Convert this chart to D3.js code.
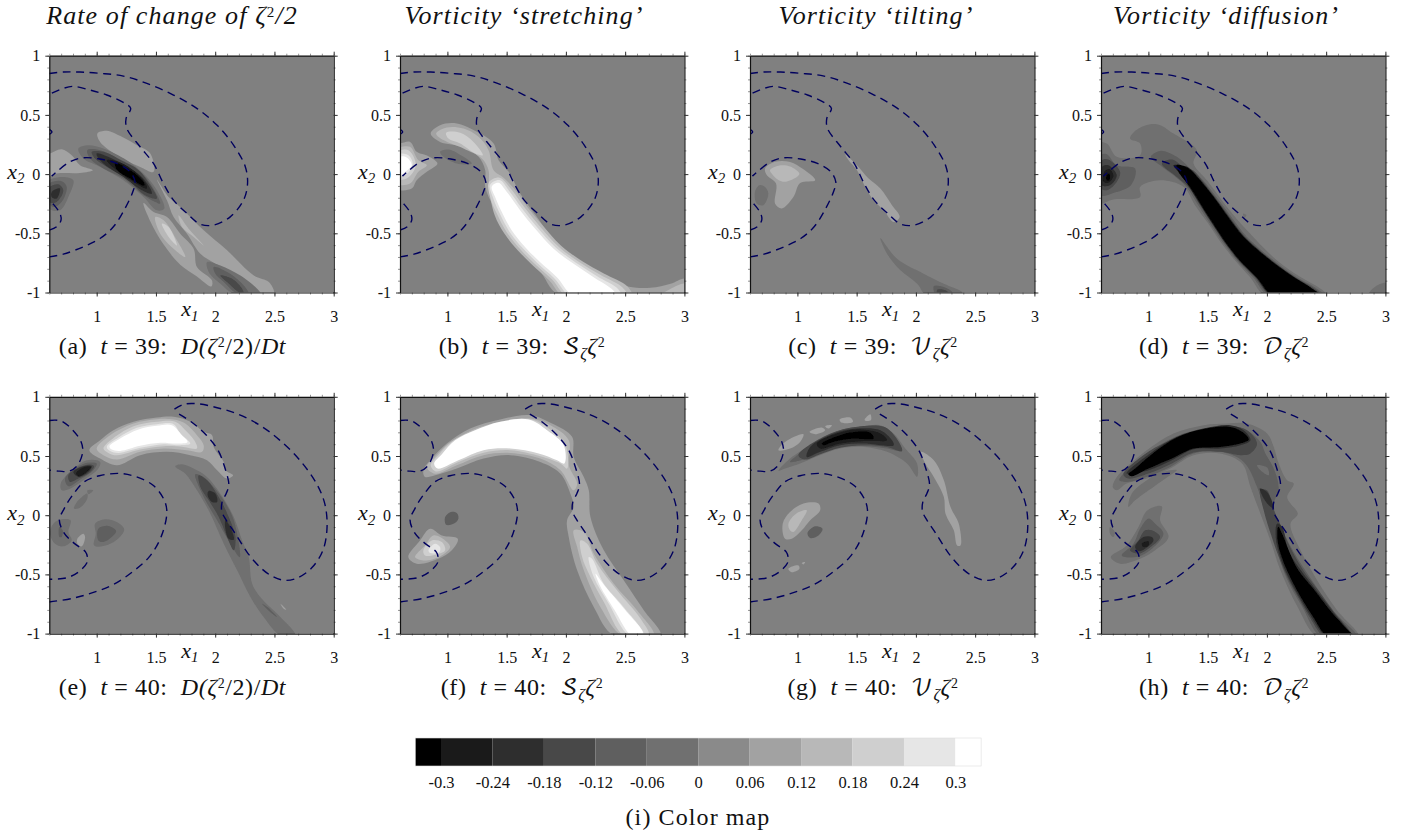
<!DOCTYPE html>
<html>
<head>
<meta charset="utf-8">
<script src="https://cdn.jsdelivr.net/npm/d3@7"></script>
<style>
  body { margin: 0; background: #fff; }
  svg { display: block; }
  text { font-family: "Liberation Serif", serif; fill: #111; }
</style>
</head>
<body>
<div id="chart"></div>
<script>
const width = 1416;
const height = 834;

// values
const xMajor = [1, 1.5, 2, 2.5, 3];
const yMajor = [-1, -0.5, 0, 0.5, 1];
const xMinor = d3.range(6, 31).map(d => d / 10);
const yMinor = d3.range(-10, 11).map(d => d / 10);

const colorTicks = [-0.3, -0.24, -0.18, -0.12, -0.06, 0, 0.06, 0.12, 0.18, 0.24, 0.3];
const colorTickLabels = ["-0.3", "-0.24", "-0.18", "-0.12", "-0.06", "0", "0.06", "0.12", "0.18", "0.24", "0.3"];
const bandGrays = ["#000000", "#1a1a1a", "#2e2e2e", "#484848", "#5f5f5f", "#707070", "#8a8a8a", "#a2a2a2", "#b8b8b8", "#cfcfcf", "#e6e6e6", "#ffffff"];

const headings = [
  [["Rate of change of ζ"], ["2", "sup"], ["/2"]],
  [["Vorticity ‘stretching’"]],
  [["Vorticity ‘tilting’"]],
  [["Vorticity ‘diffusion’"]]
];
const panelLetters = ["a", "b", "c", "d", "e", "f", "g", "h"];
const panelTimes = [39, 39, 39, 39, 40, 40, 40, 40];
const termLetters = ["D", "𝒮", "𝒱", "𝒟"];

// dashed material contours
const contours39 = [
  [[0.6,0.85],[0.718,0.862],[0.859,0.862],[1.028,0.851],[1.225,0.828],[1.423,0.766],[1.648,0.668],[1.845,0.555],[2.014,0.414],[2.155,0.245],[2.254,0.062],[2.273,-0.079],[2.239,-0.22],[2.127,-0.361],[1.986,-0.431],[1.873,-0.423],[1.761,-0.332],[1.648,-0.22],[1.563,-0.079],[1.479,0.09],[1.366,0.231],[1.254,0.386],[1.248,0.47],[1.287,0.555],[1.239,0.597],[1.085,0.668],[0.944,0.71],[0.803,0.741],[0.718,0.724],[0.6,0.673]],
  [[0.6,-0.699],[0.718,-0.676],[0.887,-0.614],[1.028,-0.544],[1.141,-0.445],[1.239,-0.29],[1.31,-0.135],[1.324,-0.065],[1.282,0.02],[1.169,0.09],[1.028,0.127],[0.887,0.138],[0.775,0.104],[0.662,0.02],[0.62,-0.017]],
  [[0.6,-0.473],[0.662,-0.445],[0.699,-0.389],[0.69,-0.332],[0.634,-0.254],[0.6,-0.22]],
  [[0.6,0.377],[0.623,0.355],[0.6,0.335]]
];
const contours40 = [
  [[1.656,0.896],[1.741,0.938],[1.854,0.941],[2.008,0.91],[2.177,0.859],[2.375,0.761],[2.544,0.634],[2.713,0.466],[2.854,0.269],[2.924,0.1],[2.944,-0.097],[2.91,-0.294],[2.811,-0.449],[2.685,-0.533],[2.586,-0.55],[2.487,-0.519],[2.389,-0.449],[2.276,-0.322],[2.177,-0.167],[2.093,-0.041],[2.056,0.03],[2.059,0.114],[2.093,0.184],[2.115,0.255],[2.079,0.409],[2.023,0.55],[1.924,0.677],[1.797,0.789],[1.685,0.859]],
  [[0.6,-0.733],[0.797,-0.702],[0.966,-0.654],[1.135,-0.589],[1.304,-0.477],[1.445,-0.35],[1.544,-0.181],[1.592,0.03],[1.563,0.142],[1.473,0.255],[1.332,0.325],[1.192,0.353],[1.023,0.333],[0.896,0.283],[0.797,0.17],[0.727,0.058],[0.685,-0.041],[0.727,-0.153],[0.811,-0.238],[0.904,-0.308],[0.921,-0.35],[0.915,-0.406],[0.839,-0.485],[0.741,-0.53],[0.6,-0.541]],
  [[0.6,0.8],[0.699,0.797],[0.797,0.719],[0.868,0.62],[0.882,0.536],[0.839,0.423],[0.769,0.372],[0.685,0.372],[0.6,0.381]]
];

// filled contour regions: [level, outline in (x1, x2)], painted in order
const regionsA = [
  [0.09, [[1.006,0.343],[1.085,0.366],[1.212,0.315],[1.339,0.244],[1.452,0.174],[1.48,0.019],[1.367,0.061],[1.17,0.16],[1.029,0.272]]],
  [-0.03, [[0.845,0.216],[0.93,0.244],[1.057,0.216],[1.254,0.117],[1.395,0.005],[1.508,-0.136],[1.57,-0.292],[1.508,-0.306],[1.395,-0.193],[1.226,-0.052],[1.029,0.061],[0.888,0.131]]],
  [-0.09, [[0.921,0.202],[1.029,0.202],[1.198,0.123],[1.339,0.047],[1.452,-0.08],[1.536,-0.249],[1.494,-0.235],[1.395,-0.179],[1.226,-0.038],[1.057,0.047],[0.944,0.131]]],
  [-0.15, [[0.958,0.188],[1.057,0.188],[1.212,0.112],[1.353,0.033],[1.452,-0.094],[1.508,-0.207],[1.409,-0.179],[1.24,-0.024],[1.085,0.061],[0.986,0.131]]],
  [-0.21, [[1.0,0.174],[1.141,0.126],[1.297,0.038],[1.401,-0.046],[1.466,-0.165],[1.381,-0.136],[1.226,-0.024],[1.085,0.067],[1.015,0.131]]],
  [-0.27, [[1.085,0.117],[1.198,0.098],[1.325,0.019],[1.409,-0.074],[1.423,-0.122],[1.311,-0.066],[1.17,0.033]]],
  [-0.33, [[1.156,0.095],[1.297,0.024],[1.395,-0.066],[1.401,-0.097],[1.282,-0.038],[1.17,0.038]]],
  [0.09, [[0.6,0.174],[0.704,0.21],[0.789,0.16],[0.859,0.075],[0.967,0.033],[0.859,0.01],[0.662,0.005],[0.577,-0.024],[0.563,0.174]]],
  [-0.03, [[0.6,-0.052],[0.718,-0.024],[0.803,-0.052],[0.761,-0.193],[0.69,-0.306],[0.6,-0.292],[0.563,-0.165]]],
  [-0.09, [[0.6,-0.08],[0.704,-0.06],[0.747,-0.108],[0.704,-0.235],[0.634,-0.277],[0.577,-0.221]]],
  [-0.15, [[0.6,-0.114],[0.676,-0.086],[0.718,-0.136],[0.662,-0.235],[0.6,-0.235]]],
  [-0.21, [[0.62,-0.151],[0.69,-0.122],[0.662,-0.207],[0.62,-0.193]]],
  [0.09, [[1.395,-0.244],[1.48,-0.32],[1.593,-0.362],[1.705,-0.503],[1.818,-0.63],[1.846,-0.785],[1.973,-0.898],[1.967,-0.949],[1.846,-0.864],[1.705,-0.765],[1.565,-0.595],[1.452,-0.398]]],
  [0.15, [[1.494,-0.362],[1.565,-0.39],[1.677,-0.559],[1.747,-0.7],[1.649,-0.63],[1.536,-0.503]]],
  [0.21, [[1.55,-0.418],[1.607,-0.447],[1.677,-0.602],[1.607,-0.531]]],
  [0.09, [[1.508,-0.046],[1.607,-0.193],[1.72,-0.292],[1.903,-0.475],[2.1,-0.644],[2.326,-0.856],[2.453,-0.912],[2.495,-1.01],[2.326,-1.01],[2.157,-0.87],[2.0,-0.757],[1.875,-0.672],[1.762,-0.503],[1.649,-0.362],[1.593,-0.221]]],
  [0.15, [[1.691,-0.348],[1.776,-0.461],[1.903,-0.602],[1.818,-0.531],[1.72,-0.447]]],
  [-0.03, [[1.931,-0.743],[2.044,-0.771],[2.213,-0.856],[2.354,-0.968],[2.382,-1.01],[2.157,-1.01],[2.044,-0.926],[1.946,-0.828]]],
  [-0.09, [[1.987,-0.785],[2.1,-0.827],[2.213,-0.912],[2.283,-1.01],[2.185,-1.01],[2.072,-0.912],[2.0,-0.84]]],
  [-0.15, [[2.044,-0.856],[2.143,-0.884],[2.227,-0.968],[2.241,-1.01],[2.199,-0.997],[2.1,-0.912]]]
];

const regionsB = [
  [0.09, [[0.859,0.343],[0.938,0.413],[1.079,0.428],[1.249,0.357],[1.39,0.258],[1.432,0.117],[1.517,0.019],[1.615,-0.165],[1.756,-0.362],[1.925,-0.588],[2.179,-0.785],[2.489,-0.94],[2.715,-0.96],[2.884,-0.926],[3.01,-0.884],[3.04,-1.03],[1.954,-1.03],[1.775,-0.813],[1.531,-0.559],[1.39,-0.277],[1.319,-0.108],[1.319,0.033],[1.263,0.146],[1.136,0.23],[0.938,0.272]]],
  [0.15, [[0.905,0.343],[0.995,0.394],[1.136,0.385],[1.263,0.315],[1.347,0.202],[1.39,0.033],[1.474,-0.03],[1.56,-0.12],[1.673,-0.275],[1.8,-0.43],[1.955,-0.6],[2.122,-0.726],[2.32,-0.84],[2.52,-0.95],[2.56,-1.04],[1.99,-1.04],[1.862,-0.9],[1.721,-0.772],[1.595,-0.645],[1.482,-0.504],[1.4,-0.349],[1.35,-0.108],[1.347,0.033],[1.291,0.131],[1.136,0.216],[0.967,0.287]]],
  [0.21, [[0.989,0.349],[1.108,0.349],[1.22,0.272],[1.299,0.16],[1.235,0.174],[1.108,0.258],[1.009,0.3]]],
  [0.21, [[1.35,-0.07],[1.44,-0.03],[1.54,-0.13],[1.653,-0.285],[1.779,-0.44],[1.934,-0.609],[2.102,-0.736],[2.29,-0.85],[2.48,-0.96],[2.52,-1.04],[2.02,-1.04],[1.882,-0.889],[1.741,-0.762],[1.615,-0.635],[1.502,-0.494],[1.42,-0.339],[1.365,-0.21]]],
  [0.27, [[1.36,-0.09],[1.44,-0.05],[1.52,-0.14],[1.633,-0.295],[1.759,-0.45],[1.914,-0.619],[2.082,-0.746],[2.26,-0.86],[2.44,-0.97],[2.47,-1.04],[2.05,-1.04],[1.902,-0.879],[1.761,-0.752],[1.635,-0.625],[1.522,-0.484],[1.44,-0.329],[1.385,-0.2]]],
  [0.33, [[1.374,-0.107],[1.43,-0.074],[1.5,-0.15],[1.613,-0.305],[1.739,-0.46],[1.894,-0.629],[2.062,-0.756],[2.231,-0.869],[2.399,-0.982],[2.427,-1.038],[2.076,-1.038],[1.922,-0.869],[1.781,-0.742],[1.655,-0.615],[1.542,-0.474],[1.458,-0.319],[1.402,-0.192]]],
  [0.15, [[2.884,-0.968],[3.01,-0.926],[3.04,-1.03],[2.8,-1.03]]],
  [-0.03, [[0.938,0.189],[1.009,0.208],[1.136,0.146],[1.206,0.09],[1.079,0.09],[0.967,0.146]]],
  [0.09, [[0.6,0.258],[0.685,0.272],[0.741,0.188],[0.84,0.151],[0.916,0.089],[0.826,0.019],[0.741,-0.052],[0.699,-0.122],[0.572,-0.122],[0.558,0.258]]],
  [0.15, [[0.6,0.23],[0.685,0.23],[0.755,0.117],[0.826,0.075],[0.755,0.019],[0.685,-0.08],[0.572,-0.08],[0.566,0.23]]],
  [0.21, [[0.6,0.202],[0.671,0.202],[0.727,0.117],[0.727,0.047],[0.656,-0.038],[0.572,-0.038],[0.572,0.202]]],
  [0.27, [[0.6,0.174],[0.671,0.16],[0.707,0.089],[0.656,-0.001],[0.572,-0.01],[0.572,0.174]]],
  [0.33, [[0.6,0.146],[0.656,0.14],[0.699,0.075],[0.642,0.019],[0.6,-0.01],[0.566,0.06]]]
];

const regionsC = [
  [0.09, [[0.727,0.047],[0.811,0.104],[0.938,0.103],[1.051,0.04],[1.15,-0.052],[1.023,-0.075],[0.966,-0.193],[0.868,-0.29],[0.812,-0.25],[0.82,-0.08],[0.741,-0.007]]],
  [0.15, [[0.769,0.033],[0.84,0.07],[0.938,0.064],[1.017,0.0],[0.904,-0.064],[0.84,-0.05],[0.783,0.005]]],
  [-0.03, [[0.679,-0.094],[0.727,-0.108],[0.755,-0.165],[0.713,-0.263],[0.656,-0.249],[0.642,-0.15]]],
  [0.09, [[1.404,0.165],[1.503,0.075],[1.601,-0.038],[1.7,-0.122],[1.798,-0.263],[1.863,-0.362],[1.812,-0.404],[1.728,-0.305],[1.643,-0.221],[1.573,-0.108],[1.503,0.033],[1.432,0.117]]],
  [-0.03, [[1.7,-0.54],[1.841,-0.715],[2.066,-0.841],[2.236,-0.926],[2.391,-0.997],[2.405,-1.03],[2.095,-1.03],[2.01,-0.926],[1.869,-0.813],[1.756,-0.672]]],
  [-0.09, [[2.151,-0.946],[2.236,-0.954],[2.306,-1.0],[2.207,-1.03],[2.17,-1.03]]],
  [-0.15, [[2.179,-0.977],[2.25,-0.982],[2.292,-1.03],[2.19,-1.03]]]
];

const regionsD = [
  [-0.03, [[0.845,0.3],[0.916,0.385],[1.071,0.422],[1.212,0.343],[1.409,0.202],[1.381,0.089],[1.494,-0.052],[1.663,-0.277],[1.832,-0.475],[2.086,-0.729],[2.284,-0.87],[2.453,-0.968],[2.53,-1.04],[2.0,-1.04],[1.857,-0.869],[1.73,-0.728],[1.618,-0.587],[1.505,-0.418],[1.393,-0.263],[1.295,-0.107],[1.099,-0.052],[0.93,-0.108],[0.93,-0.193],[0.704,-0.215],[0.563,-0.249],[0.563,0.258],[0.648,0.258],[0.733,0.146],[0.93,0.16],[0.93,0.258]]],
  [-0.03, [[2.876,-0.984],[2.96,-0.926],[3.04,-0.92],[3.04,-1.03],[2.86,-1.03]]],
  [-0.03, [[1.799,-0.334],[1.827,-0.348],[1.81,-0.368]]],
  [-0.09, [[1.02,0.146],[1.099,0.196],[1.24,0.146],[1.339,0.061],[1.46,-0.05],[1.573,-0.192],[1.69,-0.347],[1.83,-0.53],[1.97,-0.657],[2.11,-0.77],[2.25,-0.869],[2.41,-0.96],[2.5,-1.04],[2.03,-1.04],[1.88,-0.869],[1.745,-0.728],[1.635,-0.587],[1.52,-0.418],[1.42,-0.263],[1.32,-0.107],[1.212,-0.01],[1.099,0.075]]],
  [-0.15, [[1.113,0.089],[1.198,0.123],[1.297,0.061],[1.38,0.03],[1.45,-0.05],[1.56,-0.192],[1.675,-0.347],[1.815,-0.53],[1.955,-0.657],[2.095,-0.77],[2.235,-0.869],[2.39,-0.96],[2.48,-1.04],[2.05,-1.04],[1.895,-0.869],[1.757,-0.728],[1.647,-0.587],[1.535,-0.418],[1.435,-0.263],[1.335,-0.107],[1.24,-0.024]]],
  [-0.27, [[1.212,0.075],[1.297,0.07],[1.345,0.05],[1.44,-0.05],[1.553,-0.192],[1.667,-0.347],[1.807,-0.53],[1.948,-0.657],[2.089,-0.77],[2.229,-0.869],[2.37,-0.96],[2.47,-1.04],[2.06,-1.04],[1.905,-0.869],[1.765,-0.728],[1.653,-0.587],[1.54,-0.418],[1.442,-0.263],[1.343,-0.107],[1.27,0.0]]],
  [-0.33, [[1.239,0.076],[1.337,0.048],[1.435,-0.051],[1.548,-0.192],[1.66,-0.347],[1.8,-0.53],[1.941,-0.657],[2.082,-0.77],[2.222,-0.869],[2.363,-0.953],[2.461,-1.038],[2.067,-1.038],[1.913,-0.869],[1.772,-0.728],[1.66,-0.587],[1.548,-0.418],[1.449,-0.263],[1.351,-0.107],[1.253,0.02]]],
  [-0.09, [[0.6,0.16],[0.648,0.168],[0.733,0.075],[0.888,0.047],[0.853,-0.094],[0.704,-0.159],[0.6,-0.179],[0.56,0.0]]],
  [-0.15, [[0.606,0.117],[0.662,0.123],[0.761,0.019],[0.733,-0.066],[0.648,-0.136],[0.6,-0.122],[0.563,0.005]]],
  [-0.21, [[0.614,0.067],[0.662,0.075],[0.733,-0.01],[0.676,-0.094],[0.606,-0.094],[0.577,-0.01]]],
  [-0.27, [[0.634,0.028],[0.676,0.039],[0.704,-0.018],[0.662,-0.072],[0.62,-0.063]]],
  [-0.33, [[0.648,-0.01],[0.67,0.005],[0.67,-0.052],[0.648,-0.052]]]
];

const regionsE = [
  [0.09, [[0.938,0.549],[1.029,0.633],[1.141,0.718],[1.311,0.789],[1.508,0.825],[1.649,0.831],[1.79,0.789],[1.903,0.704],[1.973,0.676],[1.987,0.577],[2.072,0.45],[2.086,0.38],[2.151,0.337],[2.1,0.309],[2.016,0.38],[1.931,0.464],[1.79,0.507],[1.593,0.535],[1.367,0.507],[1.17,0.422],[1.029,0.478]]],
  [0.15, [[1.0,0.563],[1.113,0.676],[1.311,0.775],[1.508,0.811],[1.649,0.808],[1.748,0.775],[1.846,0.676],[1.903,0.591],[1.889,0.535],[1.762,0.549],[1.565,0.563],[1.367,0.535],[1.17,0.47],[1.057,0.507]]],
  [0.21, [[1.057,0.563],[1.155,0.662],[1.311,0.752],[1.508,0.789],[1.663,0.789],[1.748,0.718],[1.832,0.619],[1.846,0.563],[1.733,0.577],[1.565,0.583],[1.367,0.554],[1.17,0.506],[1.099,0.526]]],
  [0.27, [[1.085,0.577],[1.184,0.656],[1.339,0.738],[1.508,0.769],[1.649,0.769],[1.705,0.69],[1.79,0.605],[1.705,0.591],[1.565,0.6],[1.367,0.569],[1.184,0.526],[1.113,0.543]]],
  [0.33, [[1.108,0.583],[1.198,0.648],[1.353,0.724],[1.508,0.755],[1.635,0.76],[1.719,0.676],[1.767,0.619],[1.677,0.605],[1.536,0.611],[1.367,0.586],[1.198,0.543],[1.127,0.554]]],
  [-0.03, [[0.696,0.267],[0.775,0.366],[0.916,0.464],[1.029,0.45],[1.014,0.394],[0.888,0.295],[0.775,0.224],[0.704,0.21]]],
  [-0.09, [[0.733,0.309],[0.817,0.394],[0.921,0.442],[1.0,0.436],[0.972,0.38],[0.874,0.309],[0.761,0.244]]],
  [-0.15, [[0.761,0.337],[0.845,0.402],[0.944,0.428],[0.978,0.414],[0.93,0.352],[0.845,0.309],[0.775,0.281]]],
  [-0.21, [[0.803,0.366],[0.888,0.414],[0.958,0.414],[0.93,0.366],[0.845,0.323]]],
  [-0.27, [[0.825,0.352],[0.888,0.403],[0.95,0.408],[0.916,0.366],[0.854,0.329]]],
  [-0.03, [[0.874,0.154],[0.921,0.182],[0.921,0.14],[0.888,0.089],[0.845,0.056],[0.808,0.056],[0.831,0.11]]],
  [-0.03, [[0.921,0.21],[0.972,0.21],[0.93,0.177]]],
  [-0.03, [[0.634,-0.072],[0.704,-0.035],[0.78,-0.043],[0.761,-0.142],[0.789,-0.213],[0.718,-0.263],[0.648,-0.241],[0.606,-0.156]]],
  [-0.09, [[0.685,-0.1],[0.713,-0.128],[0.704,-0.184],[0.685,-0.184]]],
  [0.09, [[0.837,-0.199],[0.888,-0.156],[0.902,-0.184],[0.874,-0.263],[0.837,-0.241]]],
  [-0.03, [[0.986,-0.072],[1.07,-0.035],[1.17,-0.058],[1.232,-0.12],[1.17,-0.207],[1.057,-0.261],[0.978,-0.255],[0.992,-0.156]]],
  [-0.09, [[1.014,-0.114],[1.099,-0.091],[1.164,-0.134],[1.127,-0.185],[1.057,-0.227],[1.014,-0.213]]],
  [-0.03, [[1.663,0.413],[1.72,0.43],[1.818,0.394],[1.931,0.323],[2.044,0.182],[2.157,-0.015],[2.227,-0.213],[2.283,-0.354],[2.312,-0.579],[2.382,-0.692],[2.523,-0.833],[2.678,-1.016],[2.551,-1.016],[2.41,-0.861],[2.298,-0.692],[2.185,-0.466],[2.072,-0.241],[1.959,0.013],[1.846,0.21],[1.748,0.351]]],
  [-0.09, [[1.832,0.346],[1.903,0.323],[1.987,0.239],[2.072,0.126],[2.157,-0.043],[2.207,-0.354],[2.128,-0.241],[2.016,-0.043],[1.903,0.154]]],
  [-0.15, [[1.861,0.337],[1.931,0.295],[2.03,0.154],[2.114,-0.015],[2.171,-0.184],[2.157,-0.297],[2.1,-0.184],[2.03,-0.015],[1.945,0.126],[1.875,0.239]]],
  [-0.21, [[1.945,0.205],[2.002,0.182],[2.016,0.112],[1.973,0.112],[1.936,0.168]]],
  [-0.21, [[2.086,-0.043],[2.128,-0.1],[2.157,-0.207],[2.114,-0.199],[2.086,-0.114]]],
  [-0.09, [[2.396,-0.748],[2.441,-0.776],[2.523,-0.861],[2.481,-0.833]]],
  [0.09, [[2.551,-0.748],[2.601,-0.799],[2.578,-0.79]]]
];

const regionsF = [
  [0.09, [[0.797,0.38],[0.868,0.478],[0.995,0.605],[1.192,0.732],[1.446,0.808],[1.7,0.845],[1.883,0.774],[2.052,0.662],[2.066,0.492],[2.151,0.323],[2.193,0.21],[2.207,-0.015],[2.32,-0.297],[2.489,-0.551],[2.659,-0.805],[2.8,-1.016],[2.405,-1.016],[2.236,-0.777],[2.095,-0.466],[2.024,-0.184],[2.01,-0.043],[2.066,0.069],[2.038,0.182],[1.954,0.351],[1.784,0.45],[1.531,0.507],[1.305,0.478],[1.079,0.394],[0.896,0.337],[0.811,0.323]]],
  [0.15, [[0.826,0.408],[0.896,0.492],[1.009,0.605],[1.206,0.718],[1.446,0.789],[1.7,0.817],[1.869,0.76],[2.024,0.633],[2.024,0.422],[2.095,0.267],[2.066,0.21],[1.954,0.38],[1.784,0.478],[1.531,0.526],[1.305,0.507],[1.079,0.422],[0.896,0.351]]],
  [0.21, [[0.859,0.422],[0.924,0.507],[1.037,0.62],[1.22,0.713],[1.446,0.78],[1.7,0.808],[1.855,0.732],[1.996,0.591],[2.01,0.394],[1.954,0.436],[1.784,0.498],[1.531,0.549],[1.305,0.527],[1.079,0.443],[0.905,0.369]]],
  [0.33, [[0.888,0.436],[0.953,0.515],[1.065,0.633],[1.234,0.718],[1.446,0.789],[1.686,0.808],[1.841,0.718],[1.982,0.591],[1.987,0.436],[1.925,0.464],[1.77,0.521],[1.531,0.563],[1.305,0.549],[1.093,0.464],[0.916,0.394]]],
  [0.15, [[2.066,-0.128],[2.151,-0.142],[2.236,-0.325],[2.405,-0.579],[2.602,-0.805],[2.743,-1.016],[2.475,-1.016],[2.292,-0.777],[2.151,-0.466],[2.095,-0.269]]],
  [0.21, [[2.123,-0.213],[2.179,-0.241],[2.264,-0.41],[2.433,-0.636],[2.63,-0.875],[2.7,-1.016],[2.489,-1.016],[2.32,-0.734],[2.207,-0.523],[2.137,-0.354]]],
  [0.27, [[2.193,-0.354],[2.221,-0.368],[2.32,-0.579],[2.489,-0.777],[2.659,-1.016],[2.532,-1.016],[2.362,-0.748],[2.235,-0.523]]],
  [0.33, [[2.25,-0.495],[2.33,-0.6],[2.5,-0.8],[2.65,-1.0],[2.56,-1.02],[2.41,-0.8],[2.29,-0.6]]],
  [0.09, [[0.67,-0.354],[0.769,-0.213],[0.854,-0.114],[0.953,-0.171],[1.088,-0.199],[1.037,-0.297],[0.924,-0.368],[0.741,-0.41]]],
  [0.15, [[0.727,-0.354],[0.811,-0.255],[0.882,-0.171],[0.981,-0.213],[1.023,-0.269],[0.938,-0.348],[0.797,-0.382]]],
  [0.21, [[0.797,-0.297],[0.868,-0.213],[0.953,-0.227],[0.981,-0.297],[0.91,-0.331],[0.811,-0.34]]],
  [0.27, [[0.84,-0.297],[0.896,-0.241],[0.938,-0.269],[0.933,-0.311],[0.854,-0.32]]],
  [-0.09, [[0.981,-0.015],[1.029,0.027],[1.079,0.019],[1.093,-0.029],[1.051,-0.072],[0.989,-0.08]]]
];

const regionsG = [
  [-0.03, [[0.84,0.374],[0.938,0.478],[1.136,0.605],[1.333,0.704],[1.531,0.746],[1.7,0.76],[1.813,0.69],[1.911,0.563],[2.01,0.436],[2.01,0.323],[1.925,0.436],[1.756,0.535],[1.559,0.577],[1.361,0.563],[1.192,0.506],[1.023,0.436],[0.896,0.394]]],
  [-0.09, [[0.938,0.45],[1.009,0.515],[1.164,0.62],[1.361,0.718],[1.531,0.746],[1.728,0.746],[1.827,0.648],[1.883,0.543],[1.756,0.563],[1.559,0.585],[1.361,0.575],[1.192,0.52],[1.023,0.462]]],
  [-0.15, [[1.009,0.507],[1.22,0.662],[1.446,0.738],[1.728,0.746],[1.827,0.662],[1.883,0.543],[1.756,0.577],[1.559,0.591],[1.361,0.569],[1.192,0.515],[1.065,0.47]]],
  [-0.21, [[1.108,0.577],[1.305,0.69],[1.502,0.732],[1.7,0.718],[1.798,0.633],[1.812,0.591],[1.559,0.605],[1.361,0.591],[1.192,0.535],[1.079,0.492]]],
  [-0.27, [[1.164,0.605],[1.333,0.69],[1.502,0.724],[1.7,0.69],[1.756,0.633],[1.587,0.628],[1.361,0.605],[1.192,0.563]]],
  [-0.33, [[1.206,0.605],[1.361,0.676],[1.502,0.704],[1.615,0.696],[1.643,0.648],[1.474,0.648],[1.305,0.62],[1.22,0.591]]],
  [0.09, [[0.84,0.549],[0.896,0.619],[1.051,0.684],[1.023,0.619],[0.938,0.563]]],
  [0.09, [[1.102,0.704],[1.206,0.741],[1.234,0.718],[1.15,0.684]]],
  [0.09, [[1.234,0.752],[1.291,0.76],[1.263,0.732]]],
  [0.09, [[1.356,0.808],[1.446,0.825],[1.469,0.789],[1.375,0.78]]],
  [0.09, [[1.567,0.808],[1.615,0.853],[1.621,0.803],[1.573,0.797]]],
  [0.09, [[2.044,0.535],[2.151,0.464],[2.236,0.295],[2.292,0.069],[2.362,-0.072],[2.376,-0.255],[2.348,-0.255],[2.32,-0.128],[2.25,0.013],[2.236,0.154],[2.151,0.323],[2.08,0.436]]],
  [0.09, [[0.876,-0.072],[0.938,0.027],[1.051,0.098],[1.178,0.098],[1.192,0.041],[1.108,-0.043],[1.037,-0.128],[0.953,-0.199],[0.896,-0.199]]],
  [0.15, [[0.924,-0.072],[0.989,0.013],[1.079,0.041],[1.037,-0.043],[0.966,-0.142],[0.938,-0.128]]],
  [-0.09, [[1.085,-0.151],[1.15,-0.094],[1.212,-0.114],[1.178,-0.171],[1.108,-0.193]]],
  [0.09, [[0.924,-0.452],[1.009,-0.424],[1.017,-0.452],[0.953,-0.481]]],
  [0.09, [[1.037,-0.404],[1.065,-0.396],[1.051,-0.416]]]
];

const regionsH = [
  [-0.03, [[0.699,0.239],[0.733,0.323],[0.817,0.408],[0.986,0.549],[1.212,0.69],[1.466,0.76],[1.663,0.774],[1.832,0.774],[2.002,0.69],[2.058,0.577],[2.1,0.436],[2.171,0.295],[2.227,0.267],[2.171,0.154],[2.199,0.098],[2.261,0.013],[2.199,-0.072],[2.284,-0.297],[2.425,-0.551],[2.594,-0.805],[2.777,-1.03],[2.43,-1.03],[2.26,-0.777],[2.114,-0.466],[2.03,-0.213],[1.945,0.013],[1.861,0.239],[1.79,0.436],[1.607,0.521],[1.381,0.507],[1.184,0.394],[0.986,0.309],[0.817,0.267],[0.733,0.21]]],
  [-0.03, [[0.831,0.07],[0.859,0.182],[0.986,0.295],[1.127,0.366],[1.24,0.38],[1.184,0.338],[1.043,0.239],[0.888,0.126]]],
  [-0.09, [[0.755,0.295],[0.803,0.366],[0.986,0.521],[1.226,0.662],[1.466,0.732],[1.677,0.752],[1.804,0.732],[1.945,0.619],[1.987,0.521],[2.058,0.394],[2.1,0.225],[2.058,0.084],[2.114,-0.086],[2.227,-0.311],[2.39,-0.564],[2.57,-0.818],[2.76,-1.03],[2.46,-1.03],[2.3,-0.777],[2.16,-0.52],[2.07,-0.25],[1.987,0.013],[1.917,0.239],[1.804,0.45],[1.607,0.535],[1.381,0.521],[1.184,0.408],[0.986,0.323],[0.817,0.281]]],
  [-0.03, [[1.917,0.422],[2.002,0.402],[2.016,0.338],[1.945,0.38]]],
  [-0.15, [[0.789,0.344],[1.0,0.535],[1.226,0.648],[1.466,0.718],[1.691,0.752],[1.832,0.718],[1.917,0.605],[1.861,0.521],[1.776,0.507],[1.607,0.535],[1.381,0.53],[1.198,0.437],[1.0,0.352],[0.831,0.31]]],
  [-0.21, [[0.817,0.352],[1.014,0.521],[1.24,0.662],[1.466,0.732],[1.691,0.76],[1.804,0.718],[1.861,0.633],[1.776,0.591],[1.607,0.563],[1.381,0.558],[1.198,0.465],[1.0,0.38]]],
  [-0.33, [[0.831,0.346],[0.888,0.394],[1.029,0.515],[1.24,0.656],[1.466,0.727],[1.677,0.746],[1.79,0.704],[1.847,0.639],[1.776,0.605],[1.607,0.577],[1.381,0.563],[1.198,0.479],[1.0,0.394],[0.859,0.329]]],
  [-0.15, [[1.945,0.21],[2.0,0.21],[2.058,0.042],[2.11,-0.07],[2.2,-0.28],[2.31,-0.47],[2.43,-0.63],[2.56,-0.81],[2.72,-1.03],[2.49,-1.03],[2.36,-0.859],[2.27,-0.704],[2.17,-0.52],[2.1,-0.351],[2.04,-0.18],[1.973,0.042]]],
  [-0.21, [[1.94,0.225],[2.002,0.196],[2.058,0.056],[2.002,0.098]]],
  [-0.21, [[2.086,-0.072],[2.13,-0.1],[2.18,-0.3],[2.29,-0.47],[2.41,-0.625],[2.55,-0.806],[2.71,-1.03],[2.51,-1.03],[2.375,-0.859],[2.28,-0.704],[2.18,-0.52],[2.11,-0.351],[2.075,-0.19]]],
  [-0.33, [[2.096,-0.097],[2.133,-0.168],[2.195,-0.323],[2.265,-0.464],[2.391,-0.619],[2.532,-0.802],[2.686,-0.972],[2.742,-1.028],[2.518,-1.028],[2.391,-0.859],[2.293,-0.704],[2.195,-0.52],[2.124,-0.351],[2.088,-0.196]]],
  [-0.03, [[0.682,-0.354],[0.817,-0.255],[0.916,-0.1],[0.992,0.041],[1.113,0.075],[1.099,-0.043],[1.17,-0.185],[1.057,-0.297],[0.93,-0.368],[0.761,-0.41]]],
  [-0.09, [[0.775,-0.34],[0.874,-0.241],[0.93,-0.114],[1.0,-0.029],[1.057,-0.072],[1.127,-0.156],[1.014,-0.297],[0.902,-0.354]]],
  [-0.15, [[0.845,-0.297],[0.916,-0.213],[0.972,-0.128],[1.029,-0.128],[1.099,-0.185],[1.0,-0.283],[0.916,-0.325]]],
  [-0.21, [[0.888,-0.269],[0.958,-0.185],[1.029,-0.185],[1.043,-0.213],[0.972,-0.283],[0.916,-0.303]]],
  [-0.27, [[0.944,-0.241],[1.0,-0.221],[1.0,-0.255],[0.958,-0.269]]],
  [-0.03, [[0.676,-0.1],[0.718,-0.142],[0.704,-0.184],[0.676,-0.156]]]
];

const regionSets = [regionsA, regionsB, regionsC, regionsD, regionsE, regionsF, regionsG, regionsH];

const svg = d3.select("#chart")
  .append("svg")
  .attr("width", width)
  .attr("height", height);

const plotW = 284.4;
const plotH = 236.8;
const colX = [49.3, 400, 750, 1101];
const rowY = [55.7, 396.8];
const headingX = [172, 524, 876, 1226];
const captionX = [172.5, 522, 873, 1224];

const x = d3.scaleLinear().domain([0.6, 3]).range([0, plotW]);
const y = d3.scaleLinear().domain([-1, 1]).range([plotH, 0]);

const color = d3.scaleThreshold()
  .domain(colorTicks)
  .range(bandGrays);

const area = d3.line()
  .x(d => x(d[0]))
  .y(d => y(d[1]))
  .curve(d3.curveCatmullRomClosed.alpha(0.5));

const contourLine = d3.line()
  .x(d => x(d[0]))
  .y(d => y(d[1]))
  .curve(d3.curveCatmullRom.alpha(0.5));

const defs = svg.append("defs");
defs.append("clipPath").attr("id", "plot-clip")
  .append("rect").attr("width", plotW).attr("height", plotH);
defs.append("filter").attr("id", "soft")
  .append("feGaussianBlur").attr("stdDeviation", 0.45);

// writes [string, kind] runs into a text element
function richText(sel, runs, size) {
  let shift = 0;
  runs.forEach(([str, kind]) => {
    const t = sel.append("tspan").text(str);
    let target = 0;
    if (kind === "sup") { target = -size * 0.28; t.attr("font-size", size * 0.58).attr("font-style", "normal"); }
    if (kind === "sub") { target = size * 0.2; t.attr("font-size", size * 0.68).attr("font-style", "italic"); }
    if (kind === "it") t.attr("font-style", "italic");
    if (kind === "rm") t.attr("font-style", "normal");
    if (kind === "script") t.attr("font-family", "'DejaVu Math TeX Gyre', 'Liberation Serif', serif").attr("font-size", size * 0.95).attr("font-style", "normal");
    if (target !== shift) { t.attr("dy", target - shift); shift = target; }
  });
}

regionSets.forEach((regions, i) => {
  const col = i % 4;
  const row = Math.floor(i / 4);
  const g = svg.append("g")
    .attr("transform", `translate(${colX[col]},${rowY[row]})`);

  const clip = g.append("g").attr("clip-path", "url(#plot-clip)");
  clip.append("rect")
    .attr("width", plotW)
    .attr("height", plotH)
    .attr("fill", "#808080");

  clip.append("g")
    .attr("filter", "url(#soft)")
    .selectAll("path")
    .data(regions)
    .enter().append("path")
    .attr("d", d => area(d[1]))
    .attr("fill", d => color(d[0]));

  clip.append("g")
    .selectAll("path")
    .data(row === 0 ? contours39 : contours40)
    .enter().append("path")
    .attr("d", contourLine)
    .attr("fill", "none")
    .attr("stroke", "#00005e")
    .attr("stroke-width", 1.4)
    .attr("stroke-dasharray", "8 5.5");

  // minor ticks on all four sides
  const minorAxes = [
    [d3.axisBottom(x).tickValues(xMinor), `translate(0,${plotH})`],
    [d3.axisTop(x).tickValues(xMinor), "translate(0,0)"],
    [d3.axisLeft(y).tickValues(yMinor), "translate(0,0)"],
    [d3.axisRight(y).tickValues(yMinor), `translate(${plotW},0)`]
  ];
  minorAxes.forEach(([axis, tr]) => {
    g.append("g")
      .attr("transform", tr)
      .call(axis.tickSize(2).tickFormat(""))
      .call(a => a.select(".domain").remove())
      .selectAll("line").attr("stroke", "#777").attr("stroke-width", 0.8);
  });

  const axisStyle = a => {
    a.select(".domain").attr("stroke", "#111").attr("stroke-width", 1.2);
    a.selectAll("line").attr("stroke", "#333");
    a.selectAll("text")
      .attr("font-family", "'Liberation Serif', serif")
      .attr("font-size", 16)
      .attr("fill", "#111");
  };

  g.append("g")
    .attr("transform", `translate(0,${plotH})`)
    .call(d3.axisBottom(x).tickValues(xMajor).tickSize(4).tickSizeOuter(0).tickPadding(14).tickFormat(d => d))
    .call(axisStyle);
  g.append("g")
    .call(d3.axisTop(x).tickValues(xMajor).tickSize(4).tickSizeOuter(0).tickFormat(""))
    .call(axisStyle);
  g.append("g")
    .call(d3.axisLeft(y).tickValues(yMajor).tickSize(4).tickSizeOuter(0).tickPadding(5).tickFormat(d => d))
    .call(axisStyle);
  g.append("g")
    .attr("transform", `translate(${plotW},0)`)
    .call(d3.axisRight(y).tickValues(yMajor).tickSize(4).tickSizeOuter(0).tickFormat(""))
    .call(axisStyle);

  // axis names
  g.append("text")
    .attr("x", 132)
    .attr("y", plotH + 24)
    .attr("font-size", 22)
    .attr("font-style", "italic")
    .call(richText, [["x", "it"], ["1", "sub"]], 22);
  g.append("text")
    .attr("x", -42)
    .attr("y", y(0) + 5)
    .attr("font-size", 22)
    .attr("font-style", "italic")
    .call(richText, [["x", "it"], ["2", "sub"]], 22);

  // panel caption
  const term = col === 0
    ? [["D", "it"], ["(ζ", "it"], ["2", "sup"], ["/2)/", "rm"], ["Dt", "it"]]
    : [[termLetters[col], "script"], ["ζ", "sub"], ["ζ", "it"], ["2", "sup"]];
  const runs = [
    [`(${panelLetters[i]})  `, "rm"],
    ["t", "it"],
    [` = ${panelTimes[i]}:  `, "rm"]
  ].concat(term);
  svg.append("text")
    .attr("x", captionX[col])
    .attr("y", rowY[row] + plotH + 61.5)
    .attr("text-anchor", "middle")
    .attr("font-size", 24)
    .attr("letter-spacing", 0.6)
    .style("white-space", "pre")
    .call(richText, runs, 24);
});

// column headings
headings.forEach((runs, i) => {
  svg.append("text")
    .attr("x", headingX[i])
    .attr("y", 24)
    .attr("text-anchor", "middle")
    .attr("font-size", 26)
    .attr("font-style", "italic")
    .attr("letter-spacing", 1.1)
    .call(richText, runs, 26);
});

// color map
const barX = d3.scaleLinear().domain([-0.3, 0.3]).range([441, 955.4]);
const barEdges = [-0.33].concat(colorTicks, [0.33]);

const bar = svg.append("g").attr("transform", "translate(0,738)");

bar.selectAll("rect")
  .data(d3.pairs(barEdges))
  .enter().append("rect")
  .attr("x", d => barX(d[0]))
  .attr("width", d => barX(d[1]) - barX(d[0]))
  .attr("height", 28)
  .attr("fill", d => color((d[0] + d[1]) / 2));

bar.append("rect")
  .attr("x", barX(-0.33))
  .attr("width", barX(0.33) - barX(-0.33))
  .attr("height", 28)
  .attr("fill", "none")
  .attr("stroke", "#ddd")
  .attr("stroke-width", 0.6);

bar.append("g")
  .attr("transform", "translate(0,28)")
  .call(d3.axisBottom(barX)
    .tickValues(colorTicks)
    .tickSize(0)
    .tickPadding(10)
    .tickFormat((d, i) => colorTickLabels[i]))
  .call(a => a.select(".domain").remove())
  .selectAll("text")
  .attr("font-family", "'Liberation Serif', serif")
  .attr("font-size", 16.5)
  .attr("fill", "#111");

svg.append("text")
  .attr("x", 698)
  .attr("y", 825)
  .attr("text-anchor", "middle")
  .attr("font-size", 24)
  .attr("letter-spacing", 1.1)
  .text("(i) Color map");
</script>
</body>
</html>
